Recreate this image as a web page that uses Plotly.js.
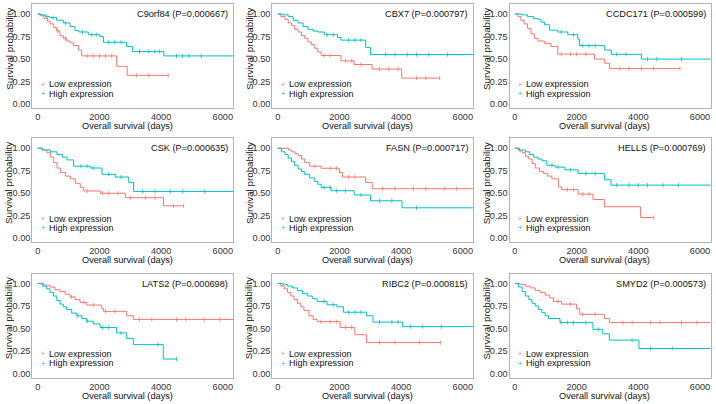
<!DOCTYPE html>
<html>
<head>
<meta charset="utf-8">
<script src="https://cdn.plot.ly/plotly-3.0.1.min.js"></script>
<style>
  html, body { margin: 0; padding: 0; background: #ffffff; }
  #chart { width: 716px; height: 404px; }
</style>
</head>
<body>
<div id="chart"></div>
<script>
// =========================
// DATA
// =========================

const genes = ["C9orf84", "CBX7", "CCDC171", "CSK", "FASN", "HELLS", "LATS2", "RIBC2", "SMYD2"];
const pValues = ["0.000667", "0.000797", "0.000599", "0.000635", "0.000717", "0.000769", "0.000698", "0.000815", "0.000573"];

const groupNames = ["Low expression", "High expression"];

const xTicks = [0, 2000, 4000, 6000];
const yTicks = [0, 0.25, 0.5, 0.75, 1];

// step points of the low expression curves (days / survival)
const lowTimes = [
  [0, 80, 200, 320, 400, 520, 615, 720, 830, 940, 1050, 1155, 1320, 1425, 2560, 2900, 4230],
  [0, 100, 235, 340, 450, 550, 660, 770, 875, 980, 1090, 1200, 1300, 1410, 2050, 2475, 3060, 4020, 5250],
  [0, 100, 195, 300, 410, 520, 630, 750, 955, 1170, 1390, 2580, 2910, 3070, 5350],
  [0, 150, 300, 420, 520, 630, 735, 900, 1060, 1220, 1380, 1490, 2030, 2840, 4080, 4730],
  [0, 350, 450, 560, 660, 770, 875, 1035, 1410, 2000, 2100, 2850, 3065, 6500],
  [0, 120, 235, 340, 450, 560, 660, 800, 930, 1060, 1200, 1410, 1515, 2050, 2530, 2900, 4075, 4500],
  [0, 200, 400, 560, 725, 890, 1050, 1210, 1370, 1590, 2075, 2130, 2885, 3100, 6500],
  [0, 100, 215, 320, 425, 530, 640, 750, 850, 1010, 1150, 1280, 2025, 2500, 2880, 5275],
  [0, 150, 340, 500, 660, 820, 980, 1120, 1250, 1515, 2000, 2100, 2900, 3060, 6500]
];
const lowSurv = [
  [1, 0.98, 0.95, 0.92, 0.89, 0.85, 0.81, 0.76, 0.73, 0.70, 0.68, 0.65, 0.60, 0.535, 0.42, 0.32, 0.32],
  [1, 0.97, 0.94, 0.90, 0.87, 0.83, 0.80, 0.76, 0.73, 0.69, 0.66, 0.62, 0.58, 0.54, 0.48, 0.44, 0.39, 0.29, 0.29],
  [1, 0.97, 0.93, 0.89, 0.84, 0.78, 0.73, 0.70, 0.675, 0.64, 0.555, 0.50, 0.454, 0.395, 0.395],
  [1, 0.98, 0.95, 0.90, 0.84, 0.78, 0.73, 0.69, 0.66, 0.61, 0.565, 0.525, 0.50, 0.45, 0.36, 0.36],
  [1, 0.98, 0.96, 0.94, 0.92, 0.88, 0.84, 0.80, 0.777, 0.73, 0.68, 0.62, 0.55, 0.55],
  [1, 0.97, 0.95, 0.91, 0.88, 0.83, 0.78, 0.74, 0.72, 0.69, 0.66, 0.57, 0.54, 0.49, 0.43, 0.35, 0.23, 0.23],
  [1, 0.98, 0.96, 0.93, 0.91, 0.88, 0.85, 0.82, 0.79, 0.76, 0.72, 0.69, 0.64, 0.60, 0.60],
  [1, 0.97, 0.94, 0.90, 0.86, 0.82, 0.78, 0.74, 0.70, 0.64, 0.60, 0.575, 0.51, 0.43, 0.343, 0.343],
  [1, 0.99, 0.97, 0.95, 0.92, 0.90, 0.87, 0.84, 0.80, 0.77, 0.72, 0.657, 0.61, 0.565, 0.565]
];

// step points of the high expression curves
const highTimes = [
  [0, 100, 250, 400, 615, 830, 1050, 1210, 1340, 1640, 2020, 2130, 2880, 3070, 4090, 6500],
  [0, 150, 340, 500, 660, 820, 980, 1150, 1300, 1515, 1940, 2050, 2850, 3010, 6500],
  [0, 200, 410, 600, 740, 850, 955, 1120, 1390, 1715, 2040, 2095, 2910, 3125, 4100, 6500],
  [0, 150, 410, 625, 800, 950, 1165, 1700, 2085, 2515, 2950, 3110, 6500],
  [0, 120, 235, 340, 450, 550, 660, 770, 875, 1035, 1200, 1300, 1410, 1730, 2480, 3010, 4030, 6500],
  [0, 150, 340, 480, 610, 750, 875, 1035, 1300, 1620, 2050, 2900, 3115, 6500],
  [0, 150, 290, 400, 510, 620, 725, 830, 940, 1100, 1265, 1430, 1590, 1800, 2020, 2560, 2885, 3100, 4070, 4500],
  [0, 150, 320, 480, 640, 800, 960, 1120, 1280, 1600, 1920, 2130, 2880, 3090, 4050, 6500],
  [0, 120, 235, 340, 450, 550, 660, 770, 875, 980, 1090, 1460, 2530, 2850, 3060, 4020, 6500]
];
const highSurv = [
  [1, 0.99, 0.97, 0.96, 0.93, 0.90, 0.86, 0.815, 0.80, 0.77, 0.75, 0.686, 0.64, 0.583, 0.535, 0.535],
  [1, 0.99, 0.97, 0.93, 0.90, 0.86, 0.83, 0.81, 0.80, 0.77, 0.74, 0.71, 0.63, 0.55, 0.55],
  [1, 0.99, 0.97, 0.95, 0.94, 0.91, 0.88, 0.82, 0.80, 0.77, 0.72, 0.65, 0.60, 0.553, 0.50, 0.50],
  [1, 0.98, 0.96, 0.93, 0.90, 0.87, 0.80, 0.78, 0.71, 0.68, 0.62, 0.52, 0.52],
  [1, 0.96, 0.93, 0.89, 0.85, 0.81, 0.77, 0.74, 0.71, 0.67, 0.63, 0.60, 0.565, 0.528, 0.48, 0.416, 0.338, 0.338],
  [1, 0.98, 0.96, 0.93, 0.90, 0.88, 0.86, 0.81, 0.79, 0.76, 0.72, 0.65, 0.59, 0.59],
  [1, 0.97, 0.94, 0.90, 0.86, 0.81, 0.77, 0.74, 0.71, 0.67, 0.64, 0.61, 0.58, 0.55, 0.51, 0.45, 0.39, 0.32, 0.16, 0.16],
  [1, 0.99, 0.97, 0.95, 0.92, 0.89, 0.86, 0.83, 0.80, 0.763, 0.74, 0.68, 0.64, 0.57, 0.52, 0.52],
  [1, 0.96, 0.91, 0.86, 0.82, 0.78, 0.75, 0.71, 0.675, 0.64, 0.61, 0.565, 0.49, 0.44, 0.37, 0.277, 0.277]
];

// censored patients (days)
const lowCensor = [
  [650, 900, 1600, 1800, 2000, 2200, 2400, 3200, 3600, 4230],
  [1500, 1700, 2200, 2400, 2700, 3300, 3600, 3900, 4500, 4800, 5250],
  [1500, 1800, 2000, 2300, 3400, 3700, 4100, 4500, 5350],
  [1600, 2100, 2300, 2600, 3000, 3500, 3800, 4400, 4730],
  [1200, 1700, 1900, 2300, 2500, 3400, 3800, 4400, 4800, 5400, 5800],
  [1700, 1900, 2200, 2400, 4500],
  [1100, 1500, 1800, 2200, 2500, 3300, 3700, 4500, 4800, 5400, 5900],
  [1400, 1700, 1900, 2200, 2400, 3300, 3800, 4600, 5275],
  [1400, 1800, 2200, 2600, 3500, 3800, 4400, 4700, 5400, 5900]
];
const highCensor = [
  [300, 500, 900, 1450, 1750, 1900, 2300, 2500, 2700, 3300, 3600, 3800, 3950, 4500, 4700, 4900, 5300],
  [1600, 1800, 2300, 2500, 2700, 3500, 3800, 4200, 4500, 4900, 5500],
  [1500, 1900, 2200, 2400, 2600, 3300, 3600, 4300, 4600, 5400],
  [1400, 1600, 1800, 2300, 2700, 3400, 3800, 4300, 4700, 5400],
  [1500, 1700, 1900, 2200, 2700, 3300, 3700, 4500],
  [1200, 1400, 1800, 2300, 2600, 3300, 3700, 4000, 4300, 4800, 5300],
  [1300, 1600, 2100, 2300, 2700, 3900, 4500],
  [1500, 1800, 2300, 2500, 2700, 3300, 3700, 3900, 4300, 4700, 5300],
  [1500, 1700, 1900, 2300, 2700, 3800, 4400, 5100]
];

// =========================
// STYLE
// =========================

const lowColor = "#F8766D";
const highColor = "#00BFC4";
const font = "Liberation Sans, Arial, sans-serif";
const fs = 9.2;

const W = 716;
const H = 404;

// plot boxes in pixels
const colBox = [[32.3, 233.3], [272.3, 473.3], [509.5, 710.5]];
const rowBox = [[4, 108.3], [138.3, 242.3], [273.5, 377.5]];

function px(x) { return x / W; }
function py(y) { return 1 - y / H; }

// value of a step curve at time t
function stepAt(times, surv, t) {
  let v = surv[0];
  for (let i = 0; i < times.length; i++) {
    if (times[i] <= t) v = surv[i];
  }
  return v;
}

let traces = [];
let layout = {
  width: W,
  height: H,
  margin: { l: 0, r: 0, t: 0, b: 0 },
  paper_bgcolor: "#ffffff",
  plot_bgcolor: "#ffffff",
  showlegend: false,
  font: { family: font, size: fs, color: "#333333" },
  annotations: []
};

for (let k = 0; k < genes.length; k++) {

  let row = Math.floor(k / 3);
  let col = k % 3;
  let n = k === 0 ? "" : String(k + 1);
  let L = colBox[col][0], R = colBox[col][1];
  let T = rowBox[row][0], B = rowBox[row][1];

  let groups = [
    { t: lowTimes[k], s: lowSurv[k], c: lowCensor[k], color: lowColor, name: groupNames[0] },
    { t: highTimes[k], s: highSurv[k], c: highCensor[k], color: highColor, name: groupNames[1] }
  ];

  groups.forEach(g => {

    traces.push({
      x: g.t,
      y: g.s,
      xaxis: "x" + n,
      yaxis: "y" + n,
      type: "scatter",
      mode: "lines",
      name: g.name,
      line: { color: g.color, width: 1, shape: "hv" },
      hoverinfo: "skip"
    });

    traces.push({
      x: g.c,
      y: g.c.map(t => stepAt(g.t, g.s, t)),
      xaxis: "x" + n,
      yaxis: "y" + n,
      type: "scatter",
      mode: "markers",
      name: g.name + " censored",
      marker: { symbol: "line-ns-open", size: 3, color: g.color, line: { color: g.color, width: 0.8 } },
      hoverinfo: "skip"
    });

  });

  layout["xaxis" + n] = {
    domain: [px(L), px(R)],
    anchor: "y" + n,
    range: [-175, 6340],
    tickvals: xTicks,
    ticks: "",
    showgrid: false,
    zeroline: false,
    showline: true,
    mirror: true,
    linecolor: "#b3b3b3",
    linewidth: 1,
    tickfont: { size: fs, color: "#333333" }
  };

  layout["yaxis" + n] = {
    domain: [py(B), py(T)],
    anchor: "x" + n,
    range: [-0.045, 1.11],
    tickvals: yTicks,
    tickformat: ".2f",
    ticks: "",
    ticklabelstandoff: -1,
    showgrid: false,
    zeroline: false,
    showline: true,
    mirror: true,
    linecolor: "#b3b3b3",
    linewidth: 1,
    tickfont: { size: fs, color: "#333333" }
  };

  // gene title with P value
  layout.annotations.push({
    text: genes[k] + " (P=" + pValues[k] + ")",
    xref: "paper", yref: "paper",
    x: px(R - 3), y: py(T + 10),
    xanchor: "right", yanchor: "middle",
    showarrow: false,
    font: { size: fs, color: "#111111" }
  });

  // legend keys
  groups.forEach((g, j) => {
    let ly = T + 80.4 + j * 9.2;
    layout.annotations.push({
      text: "+",
      xref: "paper", yref: "paper",
      x: px(L + 10.3), y: py(ly),
      xanchor: "center", yanchor: "middle",
      showarrow: false,
      borderpad: 0,
      font: { size: 7, color: g.color }
    });
    layout.annotations.push({
      text: g.name,
      xref: "paper", yref: "paper",
      x: px(L + 15.6), y: py(ly),
      xanchor: "left", yanchor: "middle",
      showarrow: false,
      borderpad: 0,
      font: { size: 9, color: "#111111" }
    });
  });

  // axis titles
  layout.annotations.push({
    text: "Overall survival (days)",
    xref: "paper", yref: "paper",
    x: px(L + 95.4), y: py(B + 18),
    xanchor: "center", yanchor: "middle",
    showarrow: false,
    font: { size: fs, color: "#111111" }
  });

  layout.annotations.push({
    text: "Survival probability",
    xref: "paper", yref: "paper",
    x: px(L - 23.5), y: py(T + 45),
    xanchor: "center", yanchor: "middle",
    textangle: -90,
    showarrow: false,
    font: { size: 9.8, color: "#111111" }
  });

}

Plotly.newPlot("chart", traces, layout, { staticPlot: true, displayModeBar: false });
</script>
</body>
</html>
